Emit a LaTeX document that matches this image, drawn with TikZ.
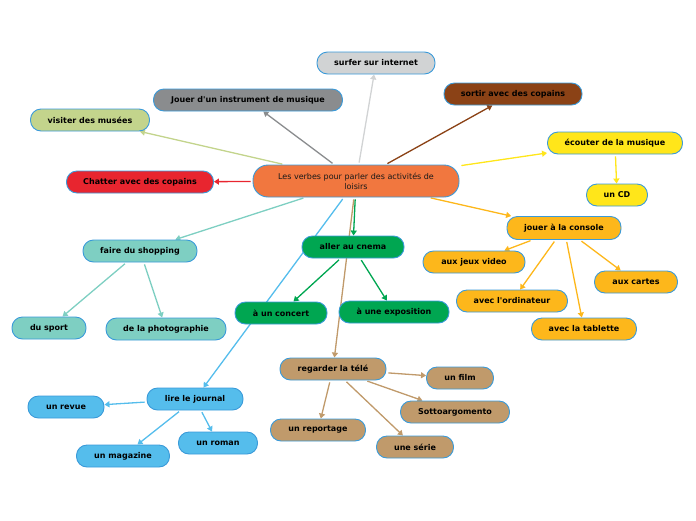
\documentclass[tikz,border=0pt]{standalone}
\usepackage{fontspec}
\setmainfont{DejaVu Sans}
\usetikzlibrary{arrows.meta,backgrounds}
\definecolor{cOrange}{HTML}{F1773F}
\definecolor{cLgray}{HTML}{D1D3D4}
\definecolor{cGray}{HTML}{8A8C8E}
\definecolor{cOlive}{HTML}{C3D48C}
\definecolor{cBrown}{HTML}{8B4216}
\definecolor{cYellow}{HTML}{FFE61A}
\definecolor{cRed}{HTML}{E8252F}
\definecolor{cTeal}{HTML}{7ECFC2}
\definecolor{cGreen}{HTML}{00A651}
\definecolor{cConsole}{HTML}{FDB71B}
\definecolor{cTan}{HTML}{C09A6B}
\definecolor{cBlue}{HTML}{55BDEC}
\definecolor{cBorder}{HTML}{3A9AD9}
\tikzset{
  box/.style={draw=cBorder, line width=0.9pt, rounded corners=10.5pt, minimum height=22pt,
    inner sep=0pt, font=\fontsize{8}{9.5}\selectfont\bfseries, text=black},
  conn/.style={line width=1.3pt, shorten <=2pt, -{Triangle[width=6pt,length=5pt]}},
}
\begin{document}
\begin{tikzpicture}[x=1pt,y=-1pt]
\useasboundingbox (0,0) rectangle (696,520);
% nodes
\node[box, fill=cOrange, minimum width=206pt, minimum height=32pt, rounded corners=15pt,
  font=\fontsize{8}{10}\selectfont, text=black!90, align=center] (central) at (356,181)
  {Les verbes pour parler des activités de\\loisirs};
\node[box, fill=cLgray, minimum width=118pt] (surfer) at (376,63) {surfer sur internet};
\node[box, fill=cGray, minimum width=189pt] (jouer) at (248,100) {Jouer d\textquotesingle un instrument de musique};
\node[box, fill=cOlive, minimum width=119pt] (visiter) at (90,120) {visiter des musées};
\node[box, fill=cBrown, minimum width=138pt] (sortir) at (513,94) {sortir avec des copains};
\node[box, fill=cYellow, minimum width=135pt] (ecouter) at (615,143) {écouter de la musique};
\node[box, fill=cYellow, minimum width=61pt] (cd) at (617,195) {un CD};
\node[box, fill=cRed, minimum width=147pt] (chatter) at (140,182) {Chatter avec des copains};
\node[box, fill=cTeal, minimum width=114pt] (shopping) at (140,251) {faire du shopping};
\node[box, fill=cTeal, minimum width=74pt] (sport) at (49,328) {du sport};
\node[box, fill=cTeal, minimum width=120pt] (photo) at (166,329) {de la photographie};
\node[box, fill=cGreen, minimum width=102pt] (cinema) at (353,247) {aller au cnema};
\node[box, fill=cGreen, minimum width=92pt] (concert) at (281,313) {à un concert};
\node[box, fill=cGreen, minimum width=110pt] (expo) at (394,312) {à une exposition};
\node[box, fill=cConsole, minimum width=114pt, minimum height=23pt] (console) at (564,228) {jouer à la console};
\node[box, fill=cConsole, minimum width=102pt] (jeux) at (474,262) {aux jeux video};
\node[box, fill=cConsole, minimum width=83pt] (cartes) at (636,282) {aux cartes};
\node[box, fill=cConsole, minimum width=111pt] (ordi) at (512,301) {avec l\textquotesingle ordinateur};
\node[box, fill=cConsole, minimum width=105pt] (tablette) at (584,329) {avec la tablette};
\node[box, fill=cTan, minimum width=106pt] (tele) at (333,369) {regarder la télé};
\node[box, fill=cTan, minimum width=67pt] (film) at (460,378) {un film};
\node[box, fill=cTan, minimum width=109pt] (sotto) at (455,412) {Sottoargomento};
\node[box, fill=cTan, minimum width=95pt] (reportage) at (318,430) {un reportage};
\node[box, fill=cTan, minimum width=77pt] (serie) at (415,447) {une série};
\node[box, fill=cBlue, minimum width=96pt] (journal) at (195,399) {lire le journal};
\node[box, fill=cBlue, minimum width=76pt] (revue) at (66,407) {un revue};
\node[box, fill=cBlue, minimum width=79pt] (roman) at (218,443) {un roman};
\node[box, fill=cBlue, minimum width=93pt] (magazine) at (123,456) {un magazine};
% connectors
\begin{scope}[on background layer]
\draw[conn, draw=cLgray, fill=cLgray] (central) -- (surfer);
\draw[conn, draw=cGray, fill=cGray] (central) -- (jouer);
\draw[conn, draw=cOlive, fill=cOlive] (central) -- (visiter);
\draw[conn, draw=cRed, fill=cRed] (central) -- (chatter);
\draw[conn, draw=cBrown, fill=cBrown] (central) -- (sortir);
\draw[conn, draw=cYellow, fill=cYellow] (central) -- (ecouter);
\draw[conn, draw=cYellow, fill=cYellow] (ecouter) -- (cd);
\draw[conn, draw=cTeal, fill=cTeal] (central) -- (shopping);
\draw[conn, draw=cTeal, fill=cTeal] (shopping) -- (sport);
\draw[conn, draw=cTeal, fill=cTeal] (shopping) -- (photo);
\draw[conn, draw=cGreen, fill=cGreen] (central) -- (cinema);
\draw[conn, draw=cGreen, fill=cGreen] (cinema) -- (concert);
\draw[conn, draw=cGreen, fill=cGreen] (cinema) -- (expo);
\draw[conn, draw=cConsole, fill=cConsole] (central) -- (console);
\draw[conn, draw=cConsole, fill=cConsole] (console) -- (jeux);
\draw[conn, draw=cConsole, fill=cConsole] (console) -- (cartes);
\draw[conn, draw=cConsole, fill=cConsole] (console) -- (ordi);
\draw[conn, draw=cConsole, fill=cConsole] (console) -- (tablette);
\draw[conn, draw=cTan, fill=cTan] (central) -- (tele);
\draw[conn, draw=cTan, fill=cTan] (tele) -- (film);
\draw[conn, draw=cTan, fill=cTan] (tele) -- (sotto);
\draw[conn, draw=cTan, fill=cTan] (tele) -- (reportage);
\draw[conn, draw=cTan, fill=cTan] (tele) -- (serie);
\draw[conn, draw=cBlue, fill=cBlue] (central) -- (journal);
\draw[conn, draw=cBlue, fill=cBlue] (journal) -- (revue);
\draw[conn, draw=cBlue, fill=cBlue] (journal) -- (roman);
\draw[conn, draw=cBlue, fill=cBlue] (journal) -- (magazine);
\end{scope}
\end{tikzpicture}
\end{document}
